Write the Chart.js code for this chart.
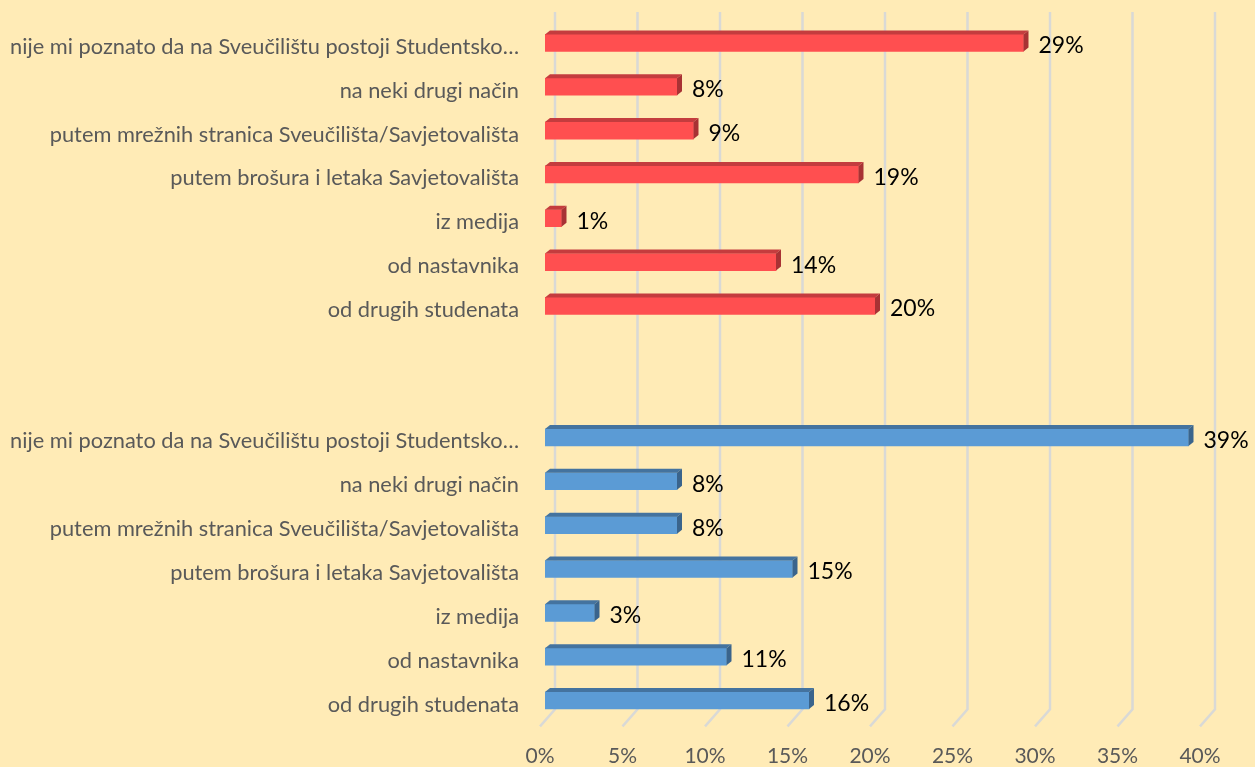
<!DOCTYPE html>
<html>
<head>
<meta charset="utf-8">
<script src="https://cdn.jsdelivr.net/npm/chart.js@4"></script>
<style>
  html, body { margin: 0; padding: 0; background: #FFEBB6; }
  #wrap { width: 1255px; height: 767px; }
</style>
</head>
<body>
<div id="wrap"><canvas id="sourcesChart"></canvas></div>
<script>
// answer categories, one block per group with two empty rows between them
const answers = [
  'nije mi poznato da na Sveučilištu postoji Studentsko…',
  'na neki drugi način',
  'putem mrežnih stranica Sveučilišta/Savjetovališta',
  'putem brošura i letaka Savjetovališta',
  'iz medija',
  'od nastavnika',
  'od drugih studenata'
];
const categories = [...answers, '', '', ...answers];

// percentages per group (top block red, bottom block blue)
const redValues = [29, 8, 9, 19, 1, 14, 20];
const blueValues = [39, 8, 8, 15, 3, 11, 16];

const tickValues = [0, 5, 10, 15, 20, 25, 30, 35, 40];

const gap = [null, null];
const redData = [...redValues, ...gap, ...blueValues.map(() => null)];
const blueData = [...redValues.map(() => null), ...gap, ...blueValues];

const FONT = 'Lato, "Noto Sans", sans-serif';
const DEPTH_X = 5, DEPTH_Y = 4;

// back wall gridlines with the slanted floor lines
const wallGrid = {
  id: 'wallGrid',
  beforeDatasetsDraw(chart) {
    const { ctx, chartArea } = chart;
    const xs = chart.scales.x;
    ctx.save();
    ctx.strokeStyle = '#D9D9D6';
    ctx.lineWidth = 2.5;
    tickValues.forEach(v => {
      const px = xs.getPixelForValue(v);
      ctx.beginPath();
      ctx.moveTo(px + 10, chartArea.top - 9);
      ctx.lineTo(px + 10, chartArea.bottom - 13);
      ctx.lineTo(px - 5, chartArea.bottom + 4);
      ctx.stroke();
    });
    ctx.restore();
  }
};

// top and side faces of each bar, then the value labels
const bar3d = {
  id: 'bar3d',
  afterDatasetsDraw(chart) {
    const { ctx } = chart;
    chart.data.datasets.forEach((ds, di) => {
      const meta = chart.getDatasetMeta(di);
      meta.data.forEach((el, i) => {
        const v = ds.data[i];
        if (v == null) return;
        const { x, y, base, height } = el.getProps(['x', 'y', 'base', 'height'], true);
        const t = y - height / 2, b = y + height / 2;
        ctx.save();
        ctx.fillStyle = ds.topColor;
        ctx.beginPath();
        ctx.moveTo(base, t);
        ctx.lineTo(base + DEPTH_X, t - DEPTH_Y);
        ctx.lineTo(x + DEPTH_X, t - DEPTH_Y);
        ctx.lineTo(x, t);
        ctx.closePath();
        ctx.fill();
        ctx.fillStyle = ds.sideColor;
        ctx.beginPath();
        ctx.moveTo(x, t);
        ctx.lineTo(x + DEPTH_X, t - DEPTH_Y);
        ctx.lineTo(x + DEPTH_X, b - DEPTH_Y);
        ctx.lineTo(x, b);
        ctx.closePath();
        ctx.fill();
        ctx.fillStyle = '#000';
        ctx.font = '23px ' + FONT;
        ctx.textAlign = 'left';
        ctx.textBaseline = 'middle';
        ctx.fillText(v + '%', x + 15, y + 3);
        ctx.restore();
      });
    });
  }
};

const ctx = document.getElementById('sourcesChart').getContext('2d');
const sourcesChart = new Chart(ctx, {
  type: 'bar',
  data: {
    labels: categories,
    datasets: [{
      data: redData,
      backgroundColor: '#FF4F50',
      topColor: '#C43C3E',
      sideColor: '#A83234',
      barThickness: 17,
      grouped: false
    }, {
      data: blueData,
      backgroundColor: '#5B9BD5',
      topColor: '#44739F',
      sideColor: '#3A648C',
      barThickness: 17,
      grouped: false
    }]
  },
  options: {
    indexAxis: 'y',
    responsive: true,
    maintainAspectRatio: false,
    animation: false,
    layout: { padding: { top: 21, right: 50, bottom: 0, left: 0 } },
    plugins: {
      legend: { display: false },
      tooltip: { enabled: false }
    },
    scales: {
      x: {
        min: 0,
        max: 40,
        grid: { display: false, drawTicks: false },
        border: { display: false },
        afterBuildTicks: s => { s.ticks = tickValues.map(v => ({ value: v })); },
        afterFit: s => { s.height = 44.6; },
        ticks: {
          padding: 21,
          labelOffset: -5,
          color: '#595959',
          font: { family: FONT, size: 21 },
          callback: v => v + '%'
        }
      },
      y: {
        grid: { display: false, drawTicks: false },
        border: { display: false },
        afterFit: s => { s.width = 545; s.paddingTop = 0; s.paddingBottom = 0; },
        ticks: {
          padding: 26,
          labelOffset: 4,
          autoSkip: false,
          color: '#595959',
          font: { family: FONT, size: 21.8 }
        }
      }
    }
  },
  plugins: [wallGrid, bar3d]
});
</script>
</body>
</html>
